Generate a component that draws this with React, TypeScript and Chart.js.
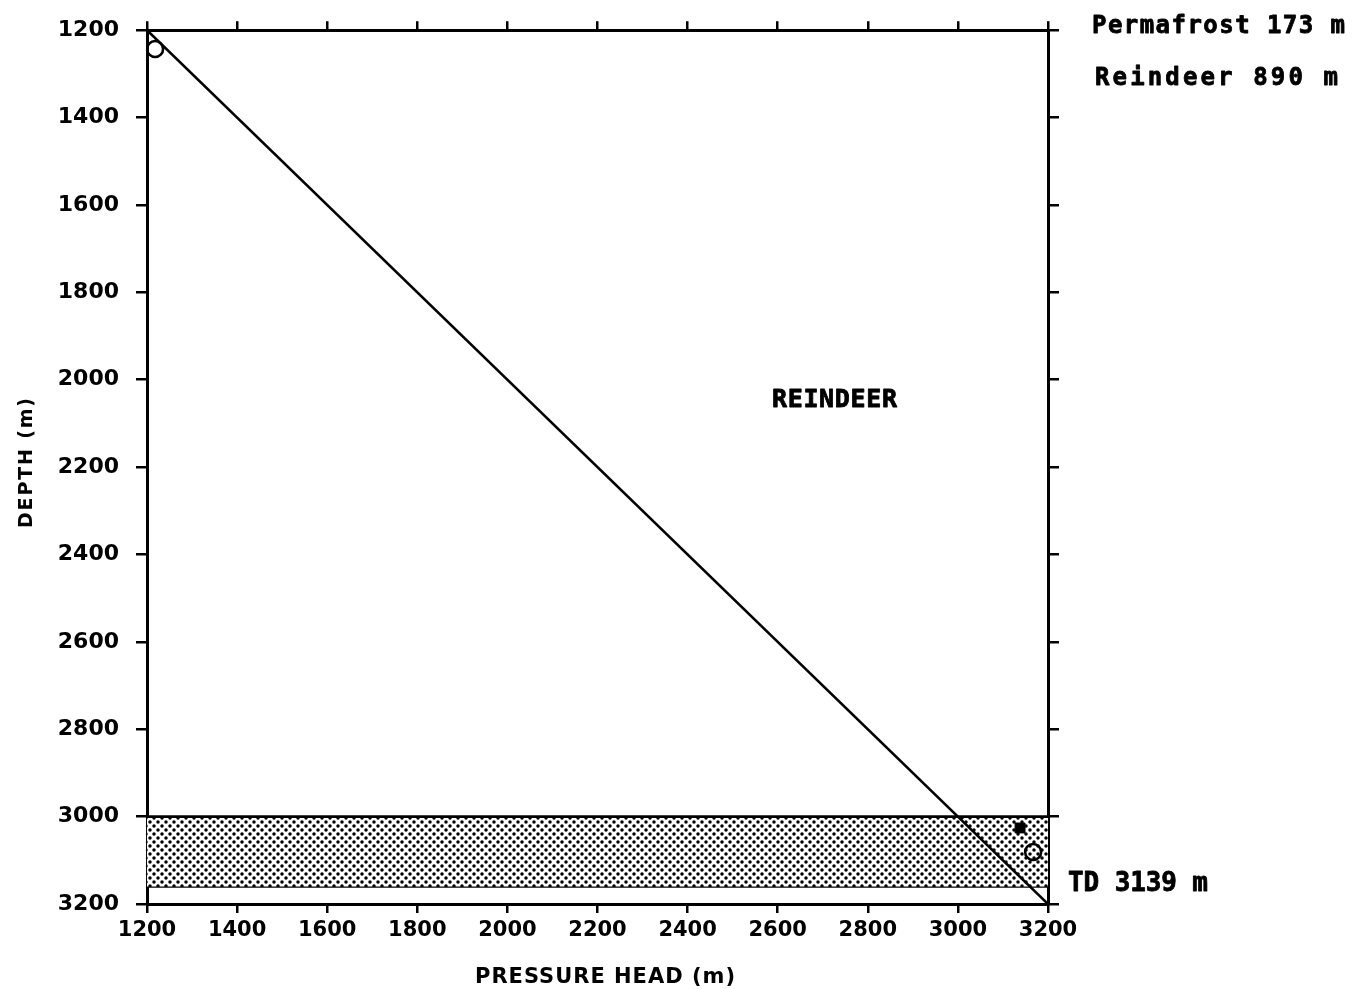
import { useEffect, useRef } from "react";
import { Chart, registerables } from "chart.js";

Chart.register(...registerables);

// Axis range and tick spacing (metres)
const axisMin = 1200;
const axisMax = 3200;
const tickStep = 200;

// Hydrostatic pressure-head line: pressure head equals depth
const headLineX = [1200, 3200];
const headLineY = [1200, 3200];

// Measured pressure points (open circles) and the single solid mark
const openX = [1218, 3167];
const openY = [1243, 3081];
const solidX = [3138];
const solidY = [3026];

// Stippled interval at the bottom of the well
const zoneTop = 3000;
const zoneBottom = 3160;

const xTitle = "PRESSURE HEAD (m)";
const yTitle = "DEPTH (m)";
const formationLabel = "REINDEER";
const sideNotes = ["Permafrost 173 m", "Reindeer 890 m"];
const tdNote = "TD 3139 m";

const W = 1355;
const H = 989;

const sansBold = (px: number) => `bold ${px}px "DejaVu Sans"`;
const monoBold = (px: number) => `bold ${px}px "DejaVu Sans Mono"`;

function makeStipple(): CanvasPattern | string {
  const c = document.createElement("canvas");
  c.width = 8;
  c.height = 8;
  const g = c.getContext("2d");
  if (!g) return "#888";
  g.fillStyle = "#fff";
  g.fillRect(0, 0, 8, 8);
  g.fillStyle = "#000";
  g.beginPath();
  g.arc(2, 2, 1.75, 0, Math.PI * 2);
  g.closePath();
  g.moveTo(7.75, 6);
  g.arc(6, 6, 1.75, 0, Math.PI * 2);
  g.fill();
  const p = g.createPattern(c, "repeat");
  return p || "#888";
}

// Draws text spread out so that its ink spans the given width
function spreadText(
  ctx: CanvasRenderingContext2D,
  text: string,
  left: number,
  capCenter: number,
  width: number,
  fontPx: number,
  family: (px: number) => string,
  thicken = 0
) {
  ctx.font = family(fontPx);
  (ctx as any).letterSpacing = "0px";
  const w0 = ctx.measureText(text).width;
  const gap = text.length > 1 ? (width - w0) / (text.length - 1) : 0;
  (ctx as any).letterSpacing = `${gap}px`;
  ctx.textAlign = "left";
  ctx.textBaseline = "alphabetic";
  const base = capCenter + (fontPx * 0.729) / 2;
  ctx.fillText(text, left, base);
  if (thicken > 0) {
    ctx.strokeStyle = "#000";
    ctx.lineWidth = thicken;
    ctx.lineJoin = "round";
    ctx.strokeText(text, left, base);
  }
  (ctx as any).letterSpacing = "0px";
}

const annotations = {
  id: "wellAnnotations",
  afterDraw(chart: Chart) {
    const ctx = chart.ctx;
    ctx.save();
    ctx.fillStyle = "#000";

    // axis titles
    ctx.save();
    ctx.translate(25, 463);
    ctx.rotate(-Math.PI / 2);
    spreadText(ctx, yTitle, -65, 0, 130, 19, sansBold);
    ctx.restore();
    spreadText(ctx, xTitle, 475, 975, 260, 21, sansBold);

    // notes
    spreadText(ctx, sideNotes[0], 1092, 24, 253, 24, monoBold, 0.8);
    spreadText(ctx, sideNotes[1], 1095, 76, 243, 24, monoBold, 0.8);
    spreadText(ctx, formationLabel, 772, 398, 125, 25, monoBold, 0.8);
    spreadText(ctx, tdNote, 1068, 882, 140, 26, monoBold, 0.8);
    ctx.restore();
  },
};

function toPoints(xs: number[], ys: number[]) {
  return xs.map((x, i) => ({ x, y: ys[i] }));
}

export default function App() {
  const ref = useRef<HTMLCanvasElement | null>(null);

  useEffect(() => {
    if (!ref.current) return;
    const stipple = makeStipple();
    const grid = {
      display: true,
      drawOnChartArea: false,
      drawTicks: true,
      tickLength: 9,
      color: "#000",
      lineWidth: 2.5,
    };
    const border = { display: true, color: "#000", width: 3 };
    const tickFont = { family: "DejaVu Sans", weight: "bold" as const, size: 21 };
    const plain = (v: number | string) => String(v);

    const chart = new Chart(ref.current, {
      type: "line",
      data: {
        datasets: [
          {
            label: "open",
            data: toPoints(openX, openY),
            showLine: false,
            pointStyle: "circle",
            pointRadius: 8,
            pointBorderWidth: 2.6,
            pointBorderColor: "#000",
            pointBackgroundColor: "rgba(0,0,0,0)",
          },
          {
            label: "solid",
            data: toPoints(solidX, solidY),
            showLine: false,
            pointStyle: "rect",
            pointRadius: 7,
            pointBorderWidth: 1,
            pointBorderColor: "#000",
            pointBackgroundColor: "#000",
          },
          {
            label: "head",
            data: toPoints(headLineX, headLineY),
            borderColor: "#000",
            borderWidth: 2.6,
            pointRadius: 0,
            fill: false,
          },
          {
            label: "zoneTop",
            data: toPoints([axisMin, axisMax], [zoneTop, zoneTop]),
            borderColor: "#000",
            borderWidth: 2.6,
            pointRadius: 0,
            fill: "+1",
            backgroundColor: stipple as any,
          },
          {
            label: "zoneBottom",
            data: toPoints([axisMin, axisMax], [zoneBottom, zoneBottom]),
            borderColor: "#000",
            borderWidth: 2.6,
            pointRadius: 0,
            fill: false,
          },
        ],
      },
      options: {
        animation: false,
        responsive: false,
        devicePixelRatio: 1,
        layout: { padding: { left: 0, right: W - 1048, top: 28, bottom: 0 } },
        plugins: {
          legend: { display: false },
          tooltip: { enabled: false },
        },
        scales: {
          x: {
            type: "linear",
            position: "bottom",
            min: axisMin,
            max: axisMax,
            ticks: { stepSize: tickStep, color: "#000", font: tickFont, padding: 5, maxRotation: 0, callback: plain },
            grid,
            border,
            afterFit: (s: any) => {
              s.height = H - 904;
            },
          },
          y: {
            type: "linear",
            position: "left",
            reverse: true,
            min: axisMin,
            max: axisMax,
            ticks: { stepSize: tickStep, color: "#000", font: { ...tickFont, size: 22 }, padding: 17, callback: plain },
            grid: { ...grid, tickLength: 11 },
            border,
            afterFit: (s: any) => {
              s.width = 147;
            },
          },
          x2: {
            type: "linear",
            axis: "x",
            position: "top",
            min: axisMin,
            max: axisMax,
            ticks: { stepSize: tickStep, display: false },
            grid,
            border,
            afterFit: (s: any) => {
              s.height = 0;
            },
          },
          y2: {
            type: "linear",
            axis: "y",
            position: "right",
            reverse: true,
            min: axisMin,
            max: axisMax,
            ticks: { stepSize: tickStep, display: false },
            grid: { ...grid, tickLength: 11 },
            border,
            afterFit: (s: any) => {
              s.width = 0;
            },
          },
        },
      },
      plugins: [annotations],
    });
    return () => chart.destroy();
  }, []);

  return (
    <div style={{ position: "fixed", left: 0, top: 0, width: W, height: H, background: "#fff" }}>
      <canvas ref={ref} width={W} height={H} style={{ display: "block" }} />
    </div>
  );
}
